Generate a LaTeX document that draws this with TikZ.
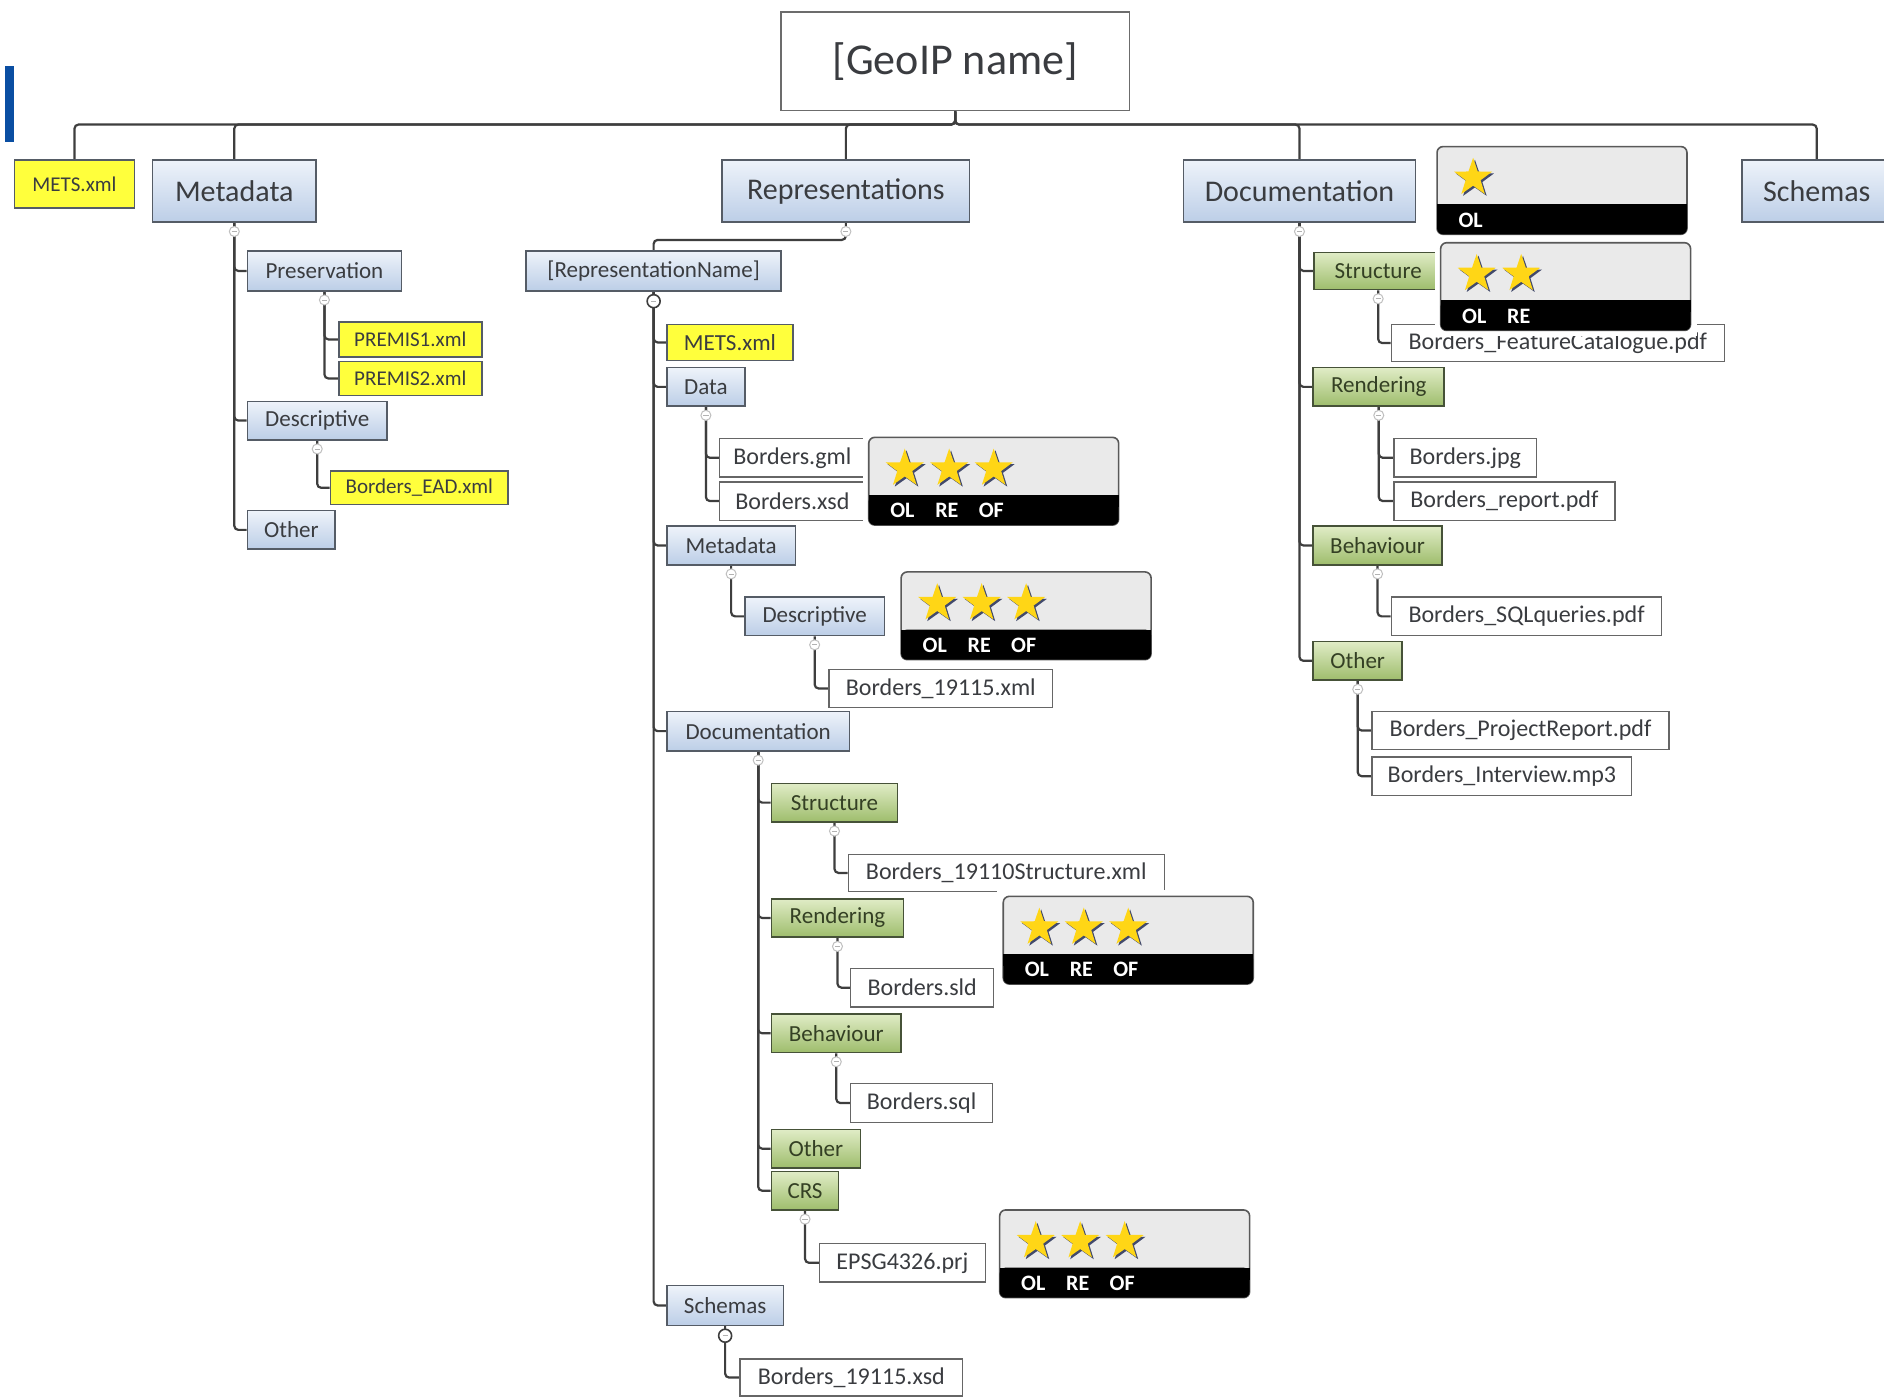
\documentclass[tikz,border=0pt]{standalone}
\usepackage{fontspec}
\setmainfont{Carlito}
\usetikzlibrary{positioning, backgrounds, shapes.geometric}
\definecolor{boxline}{RGB}{85,92,102}
\definecolor{bluetop}{RGB}{238,243,250}
\definecolor{bluebot}{RGB}{188,206,231}
\definecolor{greentop}{RGB}{224,236,198}
\definecolor{greenbot}{RGB}{158,189,108}
\definecolor{greenline}{RGB}{70,82,56}
\definecolor{greentext}{RGB}{52,64,36}
\definecolor{metsyellow}{RGB}{255,255,60}
\definecolor{txtgray}{RGB}{58,60,64}
\definecolor{linegray}{RGB}{62,62,62}
\definecolor{badgegray}{RGB}{234,234,234}
\definecolor{stargold}{RGB}{255,214,22}
\definecolor{starshade}{RGB}{66,74,108}
\definecolor{barblue}{RGB}{10,78,162}
\tikzset{
  base/.style={draw=boxline, line width=0.8pt, inner sep=0pt, text=txtgray},
  sz/.style 2 args={minimum width=#1*0.6pt, minimum height=#2*0.6pt},
  fbig/.style={font=\fontsize{15}{17}\selectfont},
  fmid/.style={font=\fontsize{11.5}{13}\selectfont},
  fsmall/.style={font=\fontsize{10.5}{12}\selectfont},
  ffile/.style={font=\fontsize{12}{14}\selectfont},
  rootbox/.style={base, draw=gray!85!black, fill=white, font=\fontsize{22}{26}\selectfont},
  bluebox/.style={base, top color=bluetop, bottom color=bluebot},
  greenbox/.style={base, draw=greenline, top color=greentop, bottom color=greenbot, text=greentext, fmid},
  yellowbox/.style={base, fill=metsyellow},
  filebox/.style={base, draw=gray!80!black, fill=white, line width=0.7pt, ffile},
  link/.style={draw=linegray, line width=1.1pt, rounded corners=2pt},
  tog/.style={circle, draw=gray!50, fill=white, line width=0.5pt, inner sep=0pt, minimum size=5pt,
    path picture={\draw[gray!60, line width=0.4pt] ([xshift=-1.3pt]path picture bounding box.center) -- ([xshift=1.3pt]path picture bounding box.center);}},
  togdark/.style={tog, draw=linegray, line width=0.8pt, minimum size=6.5pt},
  badge/.style={draw=gray!70!black, line width=0.8pt, fill=badgegray, rounded corners=3pt},
  goldstar/.style={star, star points=5, star point ratio=2.55, minimum size=20pt, inner sep=0pt, fill=stargold},
  starshadow/.style={goldstar, fill=starshade},
  badgetext/.style={text=white, inner sep=0pt, font=\fontsize{11}{12}\selectfont\bfseries},
  pics/rating/.style={code={
    \fill[white] (-5,-5) rectangle (213,78);
    \draw[badge] (0,0) rectangle (208,73);
    \fill[black, rounded corners=3pt] (0,48) rectangle (208,73);
    \fill[black] (0,48) rectangle (208,58);
    \foreach \lab [count=\i] in {#1} {
      \node[starshadow] (-sh\i) at (-5.5+37*\i, 27.5) {};
      \node[goldstar] (-st\i) at (-7+37*\i, 26) {};
      \node[badgetext] (-l\i) at (-9+37*\i, 61) {\lab};
    }
  }}
}

\begin{document}
\begin{tikzpicture}[x=0.6pt, y=-0.6pt]
\useasboundingbox (0,0) rectangle (1568,1162);
\clip (0,0) rectangle (1568,1162);
\fill[barblue] (4,55) rectangle (12,118);
%
% top level
\node[rootbox, sz={290}{82}] (root) at (795,51) {[GeoIP name]};
\node[yellowbox, fsmall, sz={100}{40}] (mets0) at (62,153) {METS.xml};
\node[bluebox, fbig, sz={136}{52}] (meta) at (195,159) {Metadata};
\node[bluebox, fbig, sz={206}{52}] (reps) at (704,159) {Representations};
\node[bluebox, fbig, sz={193}{52}] (docs) at (1081.5,159) {Documentation};
\node[bluebox, fbig, sz={124}{52}] (schemas) at (1512,159) {Schemas};
%
% metadata
\node[bluebox, fmid, sz={128}{33}] (pres) at (270,225.5) {Preservation};
\node[yellowbox, fsmall, sz={119}{29}] (premis1) at (341.5,282.5) {PREMIS1.xml};
\node[yellowbox, fsmall, sz={119}{28}] (premis2) at (341.5,315) {PREMIS2.xml};
\node[bluebox, fmid, sz={116}{32}] (mdesc) at (264,350) {Descriptive};
\node[yellowbox, fsmall, sz={148}{28}] (ead) at (349,406) {Borders\_EAD.xml};
\node[bluebox, fmid, sz={73}{32}] (mother) at (242.5,441) {Other};
%
% representations
\node[bluebox, fmid, sz={212}{33}] (rname) at (544,225.5) {[RepresentationName]};
\node[yellowbox, fmid, sz={105}{30}] (rmets) at (607.5,285) {METS.xml};
\node[bluebox, fmid, sz={65}{32}] (data) at (587.5,322) {Data};
\node[filebox, sz={121}{32}] (gml) at (659.5,381) {Borders.gml};
\node[filebox, sz={121}{32}] (xsd) at (659.5,417) {Borders.xsd};
\node[bluebox, fmid, sz={107}{32}] (rmeta) at (608.5,454) {Metadata};
\node[bluebox, fmid, sz={116}{32}] (rdesc) at (678,513) {Descriptive};
\node[filebox, sz={186}{32}] (xml19115) at (783,573) {Borders\_19115.xml};
\node[bluebox, fmid, sz={152}{33}] (rdoc) at (631,608.5) {Documentation};
\node[greenbox, sz={105}{32}] (rstruct) at (694.5,668) {Structure};
\node[filebox, sz={263}{31}] (s19110) at (837.5,726.5) {Borders\_19110Structure.xml};
\node[greenbox, sz={110}{32}] (rrend) at (697,764) {Rendering};
\node[filebox, sz={119}{32}] (sld) at (767.5,822) {Borders.sld};
\node[greenbox, sz={108}{32}] (rbeh) at (696,860) {Behaviour};
\node[filebox, sz={118}{32}] (sql) at (767,918) {Borders.sql};
\node[greenbox, sz={74}{32}] (rother) at (679,956) {Other};
\node[greenbox, sz={56}{32}] (crs) at (670,991) {CRS};
\node[filebox, sz={138}{32}] (epsg) at (751,1051) {EPSG4326.prj};
\node[bluebox, fmid, sz={97}{33}] (rschem) at (603.5,1086.5) {Schemas};
\node[filebox, sz={185}{31}] (xsd19115) at (708.5,1146.5) {Borders\_19115.xsd};
%
% documentation
\node[greenbox, sz={107}{31}] (dstruct) at (1147,225.5) {Structure};
\node[filebox, sz={277}{31}] (featcat) at (1296.5,285.5) {Borders\_FeatureCatalogue.pdf};
\node[greenbox, sz={109}{32}] (drend) at (1147.5,322) {Rendering};
\node[filebox, sz={119}{32}] (jpg) at (1219.5,381) {Borders.jpg};
\node[filebox, sz={184}{32}] (report) at (1252,417) {Borders\_report.pdf};
\node[greenbox, sz={107}{32}] (dbeh) at (1146.5,454) {Behaviour};
\node[filebox, sz={225}{32}] (sqlq) at (1270.5,513) {Borders\_SQLqueries.pdf};
\node[greenbox, sz={74}{32}] (dother) at (1130,550) {Other};
\node[filebox, sz={247}{32}] (projrep) at (1265.5,608) {Borders\_ProjectReport.pdf};
\node[filebox, sz={216}{32}] (interview) at (1250,646) {Borders\_Interview.mp3};
%
\begin{scope}[on background layer]
\fill[white] (0,0) rectangle (1568,1162);
\foreach \c in {mets0,meta,reps,docs,schemas}
  {\draw[link] (root.south) -- ++(0,11) -| (\c.north);}
\foreach \c in {pres,mdesc,mother}
  {\draw[link] (meta.south) |- (\c.west);}
\foreach \c in {premis1,premis2}
  {\draw[link] (pres.south) |- (\c.west);}
\draw[link] (mdesc.south) |- (ead.west);
\draw[link] (reps.south) -- ++(0,14) -| (rname.north);
\foreach \c in {rmets,data,rmeta,rdoc,rschem}
  {\draw[link] (rname.south) |- (\c.west);}
\foreach \c in {gml,xsd}
  {\draw[link] (data.south) |- (\c.west);}
\draw[link] (rmeta.south) |- (rdesc.west);
\draw[link] (rdesc.south) |- (xml19115.west);
\foreach \c in {rstruct,rrend,rbeh,rother,crs}
  {\draw[link] (rdoc.south) |- (\c.west);}
\draw[link] (rstruct.south) |- (s19110.west);
\draw[link] (rrend.south) |- (sld.west);
\draw[link] (rbeh.south) |- (sql.west);
\draw[link] (crs.south) |- (epsg.west);
\draw[link] (rschem.south) |- (xsd19115.west);
\foreach \c in {dstruct,drend,dbeh,dother}
  {\draw[link] (docs.south) |- (\c.west);}
\draw[link] (dstruct.south) |- (featcat.west);
\foreach \c in {jpg,report}
  {\draw[link] (drend.south) |- (\c.west);}
\draw[link] (dbeh.south) |- (sqlq.west);
\foreach \c in {projrep,interview}
  {\draw[link] (dother.south) |- (\c.west);}
\end{scope}
%
% collapse markers
\foreach \p in {meta,pres,mdesc,reps,data,rmeta,rdesc,rdoc,rstruct,rrend,rbeh,crs,docs,dstruct,drend,dbeh,dother}
  {\node[tog] (t-\p) at ([yshift=-4.2pt]\p.south) {};}
\foreach \p in {rname,rschem}
  {\node[togdark] (t-\p) at ([yshift=-4.8pt]\p.south) {};}
%
% rating badges
\pic (bA) at (723,364) {rating={OL,RE,OF}};
\pic (bB) at (750,476) {rating={OL,RE,OF}};
\pic (bC) at (835,746) {rating={OL,RE,OF}};
\pic (bD) at (832,1007) {rating={OL,RE,OF}};
\pic (bE) at (1196,122) {rating={OL}};
\pic (bF) at (1199,202) {rating={OL,RE}};
\end{tikzpicture}
\end{document}
